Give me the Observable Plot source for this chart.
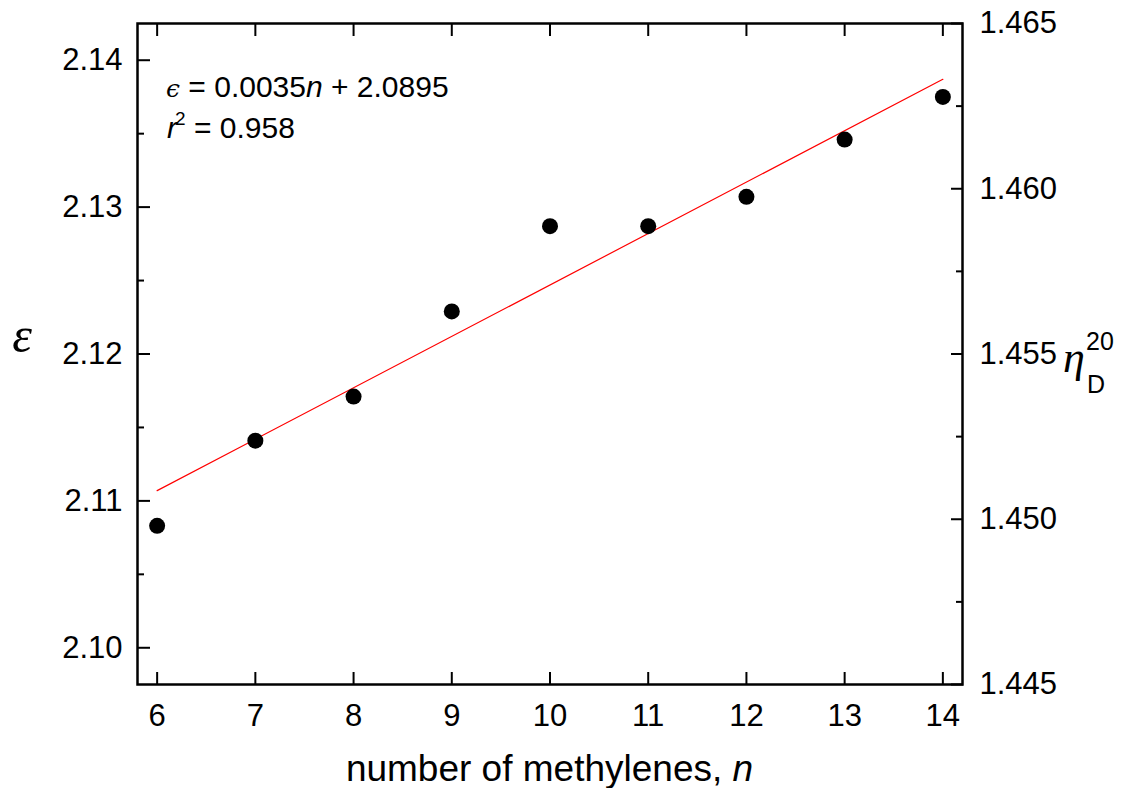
<!DOCTYPE html>
<html>
<head>
<meta charset="utf-8">
<script src="https://cdn.jsdelivr.net/npm/d3@7"></script>
<script src="https://cdn.jsdelivr.net/npm/@observablehq/plot@0.6"></script>
<style>
  body { margin: 0; background: #fff; }
  #chart svg { display: block; }
</style>
</head>
<body>
<div id="chart"></div>
<script>
// ---- data ----
const nValues   = [6, 7, 8, 9, 10, 11, 12, 13, 14];
const epsValues = [2.1083, 2.1141, 2.1171, 2.1229, 2.1287, 2.1287, 2.1307, 2.1346, 2.1375];
const fitN   = [6, 14];
const fitEps = [2.1107, 2.1387];
const xTicks     = [6, 7, 8, 9, 10, 11, 12, 13, 14];
const leftTicks  = [2.10, 2.11, 2.12, 2.13, 2.14];
const leftMinor  = [2.105, 2.115, 2.125, 2.135];
const rightTicks = [1.445, 1.450, 1.455, 1.460, 1.465];
const rightMinor = [1.4475, 1.4525, 1.4575, 1.4625];
const xDomain   = [5.8, 14.2];
const epsDomain = [2.0975, 2.1425];
const etaDomain = [1.445, 1.465];
const equationText = "0.0035";
const equationText2 = "2.0895";
const r2Text = "0.958";
const xTitle = "number of methylenes, ";

// ---- build ----
const etaToEps = d3.scaleLinear().domain(etaDomain).range(epsDomain);
const points = nValues.map((n, i) => ({n, eps: epsValues[i]}));
const fit = fitN.map((n, i) => ({n, eps: fitEps[i]}));
const rightPos = rightTicks.map(etaToEps);
const rightMinorPos = rightMinor.map(etaToEps);

const W = 1130, H = 788, mL = 137, mR = 168, mT = 23, mB = 104;
const FONT = "'Liberation Sans', Arial, sans-serif";
const blank = () => "";

const chart = Plot.plot({
  width: W, height: H,
  marginLeft: mL, marginRight: mR, marginTop: mT, marginBottom: mB,
  style: {fontFamily: FONT, background: "white", color: "black"},
  x: {domain: xDomain},
  y: {domain: epsDomain},
  marks: [
    Plot.line(fit, {x: "n", y: "eps", stroke: "#ff0000", strokeWidth: 1.2}),
    Plot.dot(points, {x: "n", y: "eps", r: 8, fill: "black", stroke: "none"}),
    // x ticks (bottom and top, inward)
    Plot.axisX(xTicks, {anchor: "bottom", tickSize: -12, strokeWidth: 2, tickFormat: blank, label: null}),
    Plot.axisX(xTicks, {anchor: "top", tickSize: -12, strokeWidth: 2, tickFormat: blank, label: null}),
    Plot.axisX(xTicks, {anchor: "bottom", tickSize: 0, tickPadding: 19, fontSize: 31, tickFormat: d => String(d), label: null}),
    // left axis
    Plot.axisY(leftTicks, {anchor: "left", tickSize: -13, strokeWidth: 2, tickFormat: blank, label: null}),
    Plot.axisY(leftMinor, {anchor: "left", tickSize: -7, strokeWidth: 2, tickFormat: blank, label: null}),
    Plot.axisY(leftTicks, {anchor: "left", tickSize: 0, tickPadding: 15, fontSize: 31, tickFormat: d3.format(".2f"), label: null}),
    // right axis (refractive index)
    Plot.axisY(rightPos, {anchor: "right", tickSize: -12, strokeWidth: 2, tickFormat: blank, label: null}),
    Plot.axisY(rightMinorPos, {anchor: "right", tickSize: -7, strokeWidth: 2, tickFormat: blank, label: null}),
    Plot.axisY(rightPos, {anchor: "right", tickSize: 0, tickPadding: 17, fontSize: 31, tickFormat: d => d3.format(".3f")(etaToEps.invert(d)), label: null}),
    Plot.frame({stroke: "black", strokeWidth: 2.5})
  ]
});

const svg = d3.select(chart);

// annotation
const ann = svg.append("g").attr("font-family", FONT).attr("font-size", 30)
  .attr("text-anchor", "start").attr("fill", "black");
const l1 = ann.append("text").attr("x", mL + 29).attr("y", 97);
l1.append("tspan").attr("font-family", "'DejaVu Serif', serif").attr("font-style", "italic").attr("font-size", 25).text("ϵ");
l1.append("tspan").text(" = " + equationText);
l1.append("tspan").attr("font-style", "italic").text("n");
l1.append("tspan").text(" + " + equationText2);
const l2 = ann.append("text").attr("x", mL + 30).attr("y", 138);
l2.append("tspan").attr("font-style", "italic").text("r");
l2.append("tspan").attr("font-size", 19).attr("dy", -13).attr("dx", -2).text("2");
l2.append("tspan").attr("dy", 13).text(" = " + r2Text);

// x title
const xt = svg.append("text").attr("x", (mL + W - mR) / 2).attr("y", 781)
  .attr("text-anchor", "middle").attr("font-family", FONT).attr("font-size", 37).attr("fill", "black");
xt.append("tspan").text(xTitle);
xt.append("tspan").attr("font-style", "italic").text("n");

// left y label (epsilon)
svg.append("text").attr("x", 22).attr("y", 352).attr("text-anchor", "middle")
  .attr("font-family", "'Liberation Serif', 'Times New Roman', serif").attr("font-style", "italic")
  .attr("font-size", 50).attr("fill", "black").text("ε");

// right y label (eta_D^20)
const rl = svg.append("g").attr("fill", "black").attr("text-anchor", "start");
rl.append("text").attr("x", 1063).attr("y", 372)
  .attr("font-family", "'Liberation Serif', 'Times New Roman', serif").attr("font-style", "italic")
  .attr("font-size", 44).text("η");
rl.append("text").attr("x", 1086).attr("y", 350).attr("font-family", FONT).attr("font-size", 25).text("20");
rl.append("text").attr("x", 1087).attr("y", 393).attr("font-family", FONT).attr("font-size", 25).text("D");

document.getElementById("chart").appendChild(chart);
</script>
</body>
</html>
